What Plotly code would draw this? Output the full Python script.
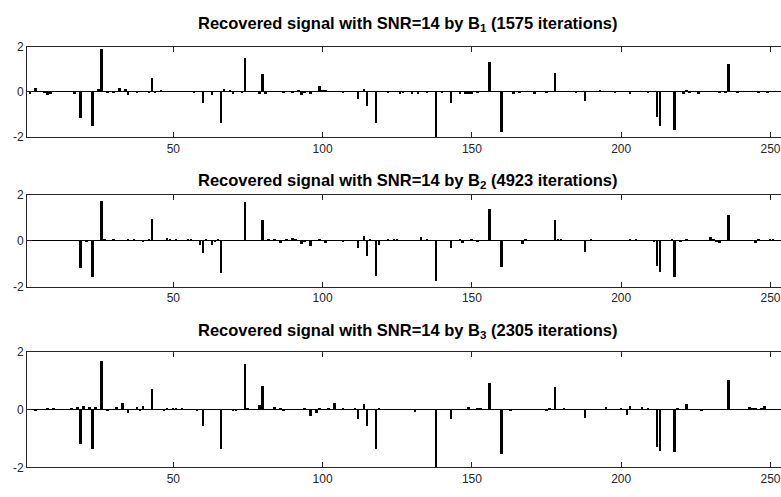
import plotly.graph_objects as go

# ---- data (sparse: index, value) ----
idx1 = [2, 4, 7, 8, 9, 17, 19, 23, 25, 26, 28, 30, 32, 34, 35, 38, 42, 43, 44, 46,
        57, 60, 63, 66, 67, 69, 70, 73, 74, 79, 80, 81, 87, 90, 92, 93, 94, 96, 99, 100,
        101, 107, 112, 114, 115, 118, 122, 126, 127, 130, 132, 135, 138, 140, 143, 146, 148, 149, 150, 152,
        156, 160, 164, 166, 171, 175, 178, 185, 188, 193, 198, 203, 209, 212, 213, 218, 221, 222, 223, 226,
        233, 235, 236, 239, 246, 249]
val1 = [-0.05, 0.17, 0.05, -0.13, -0.08, -0.05, -1.15, -1.5, 0.13, 1.91, 0.05, 0.02, 0.2, 0.13, -0.13, 0.02, -0.02, 0.65, 0.03, 0.1,
        -0.02, -0.49, -0.13, -1.34, 0.13, 0.12, -0.03, 0.03, 1.52, -0.03, 0.8, -0.06, 0.02, 0.02, 0.1, -0.1, 0.05, -0.07, 0.28, 0.1,
        0.12, 0.06, -0.28, 0.15, -0.62, -1.37, 0.02, -0.06, 0.04, -0.04, -0.04, 0.02, -2.05, 0.02, -0.46, -0.05, -0.08, -0.07, -0.05, 0.03,
        1.32, -1.74, -0.07, 0.02, -0.06, 0.05, 0.85, 0.02, -0.4, 0.12, 0.02, -0.08, 0.02, -1.07, -1.47, -1.65, -0.05, 0.12, 0.05, -0.07,
        0.05, 0.03, 1.25, 0.02, 0.06, 0.03]

idx2 = [5, 12, 14, 19, 21, 23, 26, 27, 30, 35, 37, 40, 42, 43, 48, 49, 51, 55, 56, 59,
        60, 61, 63, 64, 65, 66, 70, 72, 74, 77, 80, 82, 84, 86, 88, 90, 91, 93, 94, 96,
        99, 101, 107, 109, 112, 114, 115, 116, 118, 119, 122, 124, 125, 132, 133, 135, 138, 143, 146, 147,
        150, 152, 156, 160, 165, 167, 168, 173, 178, 179, 180, 181, 183, 188, 190, 198, 203, 205, 210, 211,
        212, 213, 217, 218, 220, 222, 224, 227, 230, 231, 232, 233, 236, 245, 246, 250, 251]
val2 = [0.02, 0.02, 0.02, -1.18, -0.03, -1.6, 1.73, 0.04, 0.05, 0.05, 0.03, -0.04, 0.05, 0.95, 0.1, 0.05, 0.05, 0.06, 0.04, -0.18,
        -0.52, 0.08, -0.17, -0.05, 0.05, -1.42, 0.02, 0.02, 1.7, 0.02, 0.92, 0.03, 0.05, -0.1, 0.05, 0.1, 0.08, -0.15, -0.05, -0.22,
        0.08, -0.08, -0.05, 0.02, -0.32, 0.22, -0.68, 0.05, -1.55, -0.2, 0.05, 0.08, 0.07, 0.02, 0.18, 0.04, -1.78, -0.3, 0.08, -0.12,
        0.05, -0.05, 1.37, -1.17, 0.02, -0.15, 0.05, 0.02, 0.92, 0.05, 0.03, 0.02, 0.02, -0.48, 0.03, 0.02, 0.05, 0.04, 0.02, -0.05,
        -1.13, -1.38, 0.07, -1.57, -0.04, 0.04, 0.02, 0.02, 0.18, 0.05, -0.07, -0.1, 1.13, -0.08, 0.04, 0.05, 0.05]

idx3 = [4, 8, 10, 12, 16, 18, 19, 20, 22, 23, 24, 26, 28, 31, 33, 35, 38, 39, 40, 43,
        47, 48, 50, 51, 53, 58, 60, 63, 66, 70, 71, 74, 75, 78, 79, 80, 84, 86, 87, 90,
        92, 94, 96, 98, 99, 102, 104, 107, 111, 112, 114, 115, 118, 119, 127, 131, 138, 142, 143, 149,
        152, 153, 156, 160, 163, 165, 171, 175, 176, 178, 181, 187, 188, 190, 195, 200, 202, 203, 207, 209,
        212, 213, 218, 219, 222, 224, 227, 231, 236, 243, 244, 245, 247, 248]
val3 = [-0.06, 0.06, 0.03, 0.02, 0.03, 0.1, -1.18, 0.13, 0.09, -1.38, 0.1, 1.7, -0.06, 0.1, 0.22, -0.1, 0.08, -0.05, 0.13, 0.7,
        -0.04, 0.04, 0.05, 0.04, 0.05, -0.06, -0.58, 0.02, -1.35, -0.04, -0.04, 1.58, 0.05, 0.02, 0.15, 0.83, 0.1, 0.04, -0.04, 0.02,
        0.02, 0.06, -0.22, -0.1, 0.06, 0.04, 0.22, 0.05, 0.04, -0.33, 0.2, -0.55, -1.38, 0.06, 0.02, -0.07, -2.1, 0.02, -0.33, 0.1,
        0.05, 0.07, 0.92, -1.52, -0.03, 0.02, 0.02, -0.04, 0.04, 0.8, 0.05, 0.02, -0.28, 0.02, 0.1, 0.06, -0.17, 0.13, 0.08, 0.07,
        -1.3, -1.42, -1.48, 0.03, 0.2, 0.02, -0.06, 0.02, 1.02, 0.08, 0.06, 0.04, 0.05, 0.13]

titles = [
    "Recovered signal with SNR=14 by B<sub>1</sub> (1575 iterations)",
    "Recovered signal with SNR=14 by B<sub>2</sub> (4923 iterations)",
    "Recovered signal with SNR=14 by B<sub>3</sub> (2305 iterations)",
]
x_ticks = [50, 100, 150, 200, 250]
y_ticks = [-2, 0, 2]
y_ticktext = ["-2", "0", "2"]

N = 256
W, H = 781, 497

series = [(idx1, val1), (idx2, val2), (idx3, val3)]
# pixel layout of each panel (top, bottom)
panels = [(40.7, 134.0), (193.7, 287.7), (355.0, 473.7)]
title_y = [18.0, 179.0, 333.0]

fig = go.Figure()
FONT = "Liberation Sans, Arial, sans-serif"
AX = "#262626"
x_left = 27.0
px_per_unit = 2.986
x_max = 1 + (W - x_left) / px_per_unit

for i, (ix, vv) in enumerate(series):
    n = i + 1
    sfx = "" if n == 1 else str(n)
    full = [0.0] * N
    for k, v in zip(ix, vv):
        full[k - 1] = v
    fig.add_trace(go.Bar(
        x=list(range(1, N + 1)), y=full, width=0.65,
        marker=dict(color="black", line=dict(width=0)),
        xaxis="x" + sfx, yaxis="y" + sfx, showlegend=False,
    ))
    top, bot = panels[i]
    fig.layout["xaxis" + sfx] = dict(
        domain=[x_left / W, 1.0], range=[1, x_max], anchor="y" + sfx,
        tickvals=x_ticks, ticks="inside", ticklen=5, tickcolor=AX,
        showline=True, linecolor=AX, linewidth=1, mirror="ticks",
        showgrid=False, zeroline=False,
        tickfont=dict(family=FONT, size=12, color=AX),
    )
    fig.layout["yaxis" + sfx] = dict(
        domain=[(H - bot) / H, (H - top) / H], range=[-2, 2], anchor="x" + sfx,
        tickvals=y_ticks, ticktext=y_ticktext, ticks="inside", ticklen=5, tickcolor=AX,
        showline=True, linecolor=AX, linewidth=1,
        showgrid=False, zeroline=True, zerolinecolor="black", zerolinewidth=1,
        tickfont=dict(family=FONT, size=12, color=AX),
    )
    fig.add_annotation(
        text="<b>" + titles[i] + "</b>", x=408.5 / W, y=(H - title_y[i]) / H,
        xref="paper", yref="paper", xanchor="center", yanchor="middle",
        showarrow=False, font=dict(family=FONT, size=16.5, color="black"),
    )

fig.update_layout(
    width=W, height=H, margin=dict(l=0, r=0, t=0, b=0),
    paper_bgcolor="white", plot_bgcolor="white", bargap=0,
)
fig.write_html("out.html")
